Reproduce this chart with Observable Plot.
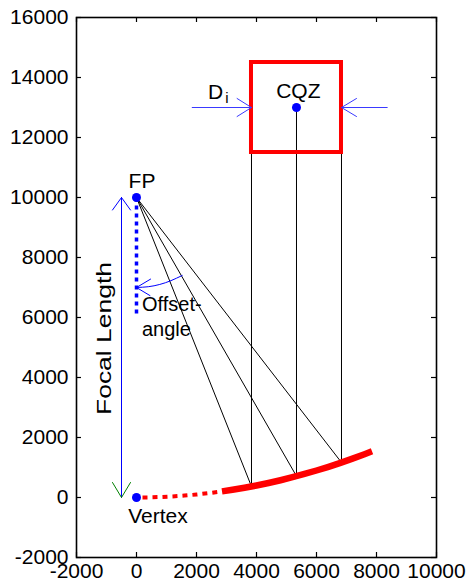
<!DOCTYPE html>
<html><head><meta charset="utf-8">
<script src="https://cdn.jsdelivr.net/npm/d3@7"></script>
<script src="https://cdn.jsdelivr.net/npm/@observablehq/plot@0.6"></script>
<style>body{margin:0;background:#fff}</style>
</head><body><div id="chart"></div>
<script>
// axes
const xTicks = [-2000, 0, 2000, 4000, 6000, 8000, 10000];
const yTicks = [-2000, 0, 2000, 4000, 6000, 8000, 10000, 12000, 14000, 16000];

// red parabolic mirror
const mirrorDottedX = [200, 400, 800, 1200, 1600, 2000, 2400, 2800];
const mirrorDottedY = [1, 4, 16, 36, 64, 100, 144, 196];
const mirrorSolidX = [2850, 3200, 3600, 4000, 4400, 4800, 5200, 5600, 6000, 6400, 6800, 7200, 7600, 7850];
const mirrorSolidY = [203, 256, 324, 400, 484, 576, 676, 784, 900, 1024, 1156, 1296, 1444, 1541];

// key points
const pointNames = ["FP", "Vertex", "CQZ"];
const pointX = [0, 0, 5333];
const pointY = [10000, 0, 13000];

// receiver square (CQZ)
const receiverX = [3833, 6833];
const receiverY = [11500, 14500];

// rays: from the receiver down to the mirror, then to FP
const rayX = [3833, 5333, 6833];
const rayTopY = [11500, 13000, 11500];
const rayHitY = [367, 711, 1167];

// blue dotted feed line below FP
const feedX = [0, 0];
const feedY = [10000, 6000];

// focal length arrow
const focalX = [-500, -500];
const focalY = [0, 10000];
const focalTopHead = [[-800, 9583], [-500, 10000], [-200, 9583]];
const focalBottomHead = [[-800, 500], [-500, 0], [-200, 500]];

// D_i arrows
const diLeftLine = [[1857, 13000], [3833, 13000]];
const diLeftHead = [[3353, 13300], [3833, 13000], [3353, 12700]];
const diRightLine = [[6833, 13000], [8357, 13000]];
const diRightHead = [[7333, 13300], [6833, 13000], [7333, 12700]];

// offset-angle arc with arrow
const arcPts = [[1523, 7400], [1148, 7228], [776, 7102], [392, 7026], [0, 7000]];
const arcHead = [[470, 7280], [0, 7000], [450, 6730]];

// labels (centered)
const labelText = ["FP", "Vertex", "CQZ", "D"];
const labelX = [183, 717, 5393, 2633];
const labelY = [10533, -623, 13533, 13500];
// labels (left-aligned)
const leftText = ["Offset-", "angle"];
const leftX = [183, 183];
const leftY = [6433, 5600];
const subText = ["i"];
const subX = [3017];
const subY = [13300];
const sideText = ["Focal Length"];
const sideX = [-1080];
const sideY = [5300];

const FONT = "'Liberation Sans', Arial, Helvetica, sans-serif";
const pairs = (xs, ys) => xs.map((x, i) => [x, ys[i]]);
const labels = labelText.map((t, i) => ({t, x: labelX[i], y: labelY[i]}));
const leftLabels = leftText.map((t, i) => ({t, x: leftX[i], y: leftY[i]}));
const rays = rayX.map((x, i) => ({x, top: rayTopY[i], hit: rayHitY[i]}));
const points = pointNames.map((n, i) => ({n, x: pointX[i], y: pointY[i]}));
const tl = 167; // inward tick length in data units (~5px)

const chart = Plot.plot({
  width: 468,
  height: 587,
  marginTop: 17,
  marginRight: 32,
  marginBottom: 30,
  marginLeft: 76,
  style: {fontFamily: FONT, fontSize: "21px", background: "white"},
  x: {domain: [-2000, 10000], ticks: xTicks, label: null},
  y: {domain: [-2000, 16000], ticks: yTicks, label: null},
  marks: [
    Plot.axisX(xTicks, {anchor: "bottom", tickSize: 0, tickPadding: 6, fontSize: 21, tickFormat: d => `${d}`, label: null}),
    Plot.axisY(yTicks, {anchor: "left", tickSize: 0, tickPadding: 8, fontSize: 21, tickFormat: d => `${d}`, label: null}),
    Plot.ruleY(yTicks, {y: d => d, x1: () => -2000, x2: () => -2000 + tl, stroke: "black", strokeWidth: 1.2}),
    Plot.ruleY(yTicks, {y: d => d, x1: () => 10000 - tl, x2: () => 10000, stroke: "black", strokeWidth: 1.2}),
    Plot.ruleX(xTicks, {x: d => d, y1: () => -2000, y2: () => -2000 + tl, stroke: "black", strokeWidth: 1.2}),
    Plot.ruleX(xTicks, {x: d => d, y1: () => 16000 - tl, y2: () => 16000, stroke: "black", strokeWidth: 1.2}),
    Plot.frame({stroke: "black", strokeWidth: 1.6}),
    // rays
    Plot.link(rays, {x1: "x", y1: "top", x2: "x", y2: "hit", stroke: "black", strokeWidth: 1}),
    Plot.link(rays, {x1: () => pointX[0], y1: () => pointY[0], x2: "x", y2: "hit", stroke: "black", strokeWidth: 1}),
    // mirror
    Plot.line(pairs(mirrorDottedX, mirrorDottedY), {stroke: "red", strokeWidth: 4, strokeDasharray: "5,5", strokeLinecap: "butt"}),
    Plot.line(pairs(mirrorSolidX, mirrorSolidY), {stroke: "red", strokeWidth: 6.5, strokeLinecap: "butt"}),
    // receiver
    Plot.rect([{x1: receiverX[0], x2: receiverX[1], y1: receiverY[0], y2: receiverY[1]}],
      {x1: "x1", x2: "x2", y1: "y1", y2: "y2", fill: "none", stroke: "red", strokeWidth: 4}),
    // feed dotted line
    Plot.line(pairs(feedX, feedY), {stroke: "blue", strokeWidth: 3.5, strokeDasharray: "4,4", strokeLinecap: "butt"}),
    // focal length arrow
    Plot.line(pairs(focalX, focalY), {stroke: "blue", strokeWidth: 1}),
    Plot.line(focalTopHead, {stroke: "blue", strokeWidth: 1}),
    Plot.line(focalBottomHead, {stroke: "green", strokeWidth: 1}),
    // D_i arrows
    Plot.line(diLeftLine, {stroke: "#3a3aff", strokeWidth: 1}),
    Plot.line(diLeftHead, {stroke: "#3a3aff", strokeWidth: 1}),
    Plot.line(diRightLine, {stroke: "#3a3aff", strokeWidth: 1}),
    Plot.line(diRightHead, {stroke: "#3a3aff", strokeWidth: 1}),
    // offset angle arc
    Plot.line(arcPts, {stroke: "blue", strokeWidth: 1, curve: "natural"}),
    Plot.line(arcHead, {stroke: "blue", strokeWidth: 1}),
    // points
    Plot.dot(points, {x: "x", y: "y", r: 4.5, fill: "blue", stroke: "none"}),
    // labels
    Plot.text(labels, {x: "x", y: "y", text: "t", textAnchor: "middle", fontSize: 21, fill: "black", fontFamily: FONT}),
    Plot.text(leftLabels, {x: "x", y: "y", text: "t", textAnchor: "start", fontSize: 20, fill: "black", fontFamily: FONT}),
    Plot.text(subText, {x: () => subX[0], y: () => subY[0], text: d => d, fontSize: 15, fill: "black", fontFamily: FONT}),
    Plot.text(sideText, {x: () => sideX[0], y: () => sideY[0], text: d => d, rotate: -90, fontSize: 20, fill: "black", fontFamily: FONT})
  ]
});

chart.querySelectorAll("text").forEach(t => {
  if (t.textContent === "Focal Length") {
    t.setAttribute("textLength", 153);
    t.setAttribute("lengthAdjust", "spacingAndGlyphs");
  }
});
document.getElementById("chart").appendChild(chart);
</script>
</body></html>
